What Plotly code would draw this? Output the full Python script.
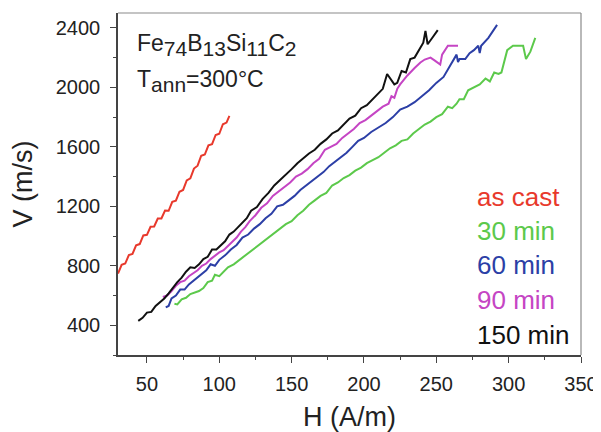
import plotly.graph_objects as go

# ---- data ----
H_cast = [30, 32.5, 35, 37.5, 40, 42.5, 45, 47.5, 50, 52.5, 55, 57.5, 60, 62.5, 65, 67.5,
          70, 72.5, 75, 77.5, 80, 82.5, 85, 87.5, 90, 92.5, 95, 97.5, 100, 102.5, 105, 107]
V_cast = [748, 806, 815, 872, 880, 938, 946, 1004, 1008, 1062, 1064, 1118, 1118, 1172, 1170, 1230,
          1238, 1298, 1310, 1374, 1388, 1454, 1473, 1540, 1548, 1610, 1618, 1680, 1688, 1752, 1763, 1808]

H_30 = [69, 71, 74, 77, 80, 83, 86, 89, 92, 95, 97, 100, 103, 106, 110, 114, 118, 122, 126, 130,
        134, 138, 142, 146, 150, 154, 158, 162, 166, 170, 174, 178, 182, 186, 190, 194, 198, 202, 206, 210,
        214, 218, 222, 226, 230, 234, 238, 242, 246, 250, 254, 258, 261, 264, 266, 269, 272, 276, 280, 284,
        287, 290, 293, 295, 297, 299, 303, 306, 310, 312, 315, 318.4]
V_30 = [545, 540, 575, 585, 610, 620, 630, 650, 690, 700, 740, 730, 760, 790, 810, 840, 870, 900, 930, 960,
        990, 1020, 1050, 1080, 1100, 1140, 1170, 1210, 1240, 1270, 1290, 1340, 1360, 1390, 1410, 1440, 1460, 1490, 1510, 1530,
        1560, 1590, 1610, 1640, 1650, 1690, 1720, 1750, 1770, 1800, 1820, 1870, 1860, 1890, 1920, 1920, 1980, 2000, 2020, 2060,
        2040, 2100, 2090, 2100, 2170, 2250, 2280, 2280, 2280, 2190, 2240, 2333]

H_60 = [63, 65, 67, 70, 73, 76, 79, 82, 85, 88, 91, 94, 97, 100, 104, 108, 112, 116, 120, 124,
        128, 132, 136, 140, 144, 148, 152, 156, 160, 164, 168, 172, 176, 180, 184, 188, 192, 196, 200, 205,
        210, 215, 220, 225, 230, 235, 240, 245, 250, 255, 259.6, 264, 265, 266, 270, 273, 276, 279, 280, 281,
        286, 292]
V_60 = [520, 530, 580, 600, 640, 640, 675, 700, 720, 750, 770, 810, 800, 840, 870, 910, 940, 990, 1010, 1050,
        1080, 1120, 1150, 1200, 1210, 1240, 1270, 1310, 1340, 1370, 1400, 1430, 1470, 1500, 1530, 1560, 1600, 1640, 1660, 1700,
        1730, 1760, 1800, 1850, 1870, 1900, 1940, 1980, 2030, 2070, 2147, 2220, 2170, 2190, 2190, 2230, 2250, 2280, 2230, 2280,
        2333, 2420]

H_90 = [61, 64, 67, 70, 73, 76, 79, 82, 85, 88, 91, 94, 97, 100, 103, 106, 109, 112, 115, 118,
        121, 125, 129, 133, 137, 141, 145, 149, 153, 157, 161, 165, 169, 173, 177, 181, 185, 189, 193, 197,
        201, 205, 209, 213, 217, 219, 221, 223, 225, 230, 235, 239, 242, 246, 249, 252.7, 254, 258, 265]
V_90 = [590, 600, 630, 665, 690, 700, 730, 750, 770, 800, 815, 845, 870, 890, 905, 935, 960, 990, 1030, 1060,
        1100, 1140, 1190, 1220, 1270, 1300, 1335, 1360, 1400, 1420, 1450, 1490, 1520, 1580, 1600, 1620, 1660, 1690, 1720, 1760,
        1780, 1810, 1840, 1870, 1890, 1940, 1930, 1990, 2020, 2080, 2130, 2167, 2187, 2200, 2180, 2153, 2220, 2280, 2280]

H_150 = [44, 47, 50, 53, 56, 59, 62, 65, 68, 71, 74, 77, 80, 83, 86, 89, 92, 95, 98, 101,
         104, 107, 110, 113, 116, 119, 122, 126, 130, 134, 138, 142, 146, 150, 154, 158, 162, 166, 170, 174,
         178, 182, 186, 190, 194, 198, 202, 206, 210, 213, 216, 219, 221, 223, 226, 229, 232, 235, 238, 241,
         242.5, 244, 247, 251]
V_150 = [430, 450, 485, 490, 530, 555, 580, 615, 655, 690, 720, 760, 790, 785, 810, 845, 860, 910, 910, 935,
         965, 1010, 1030, 1060, 1090, 1120, 1170, 1195, 1250, 1290, 1340, 1375, 1410, 1450, 1490, 1525, 1555, 1580, 1620, 1650,
         1690, 1710, 1750, 1790, 1810, 1860, 1880, 1920, 1960, 1990, 2090, 2050, 2020, 2030, 2110, 2100, 2190, 2200, 2250, 2300,
         2380, 2290, 2330, 2385]

series_names = ["as cast", "30 min", "60 min", "90 min", "150 min"]
series_H = [H_cast, H_30, H_60, H_90, H_150]
series_V = [V_cast, V_30, V_60, V_90, V_150]
colors = ["#e8392c", "#5cc94b", "#2c3fa6", "#c545c4", "#111111"]

x_ticks = [50, 100, 150, 200, 250, 300, 350]
y_ticks = [400, 800, 1200, 1600, 2000, 2400]

FONT = "Liberation Sans, Arial, sans-serif"

fig = go.Figure()
for name, hs, vs, c in zip(series_names, series_H, series_V, colors):
    assert len(hs) == len(vs), name
    fig.add_trace(go.Scatter(x=hs, y=vs, mode="lines", name=name,
                             line=dict(color=c, width=2), showlegend=False))

# legend as coloured text
leg_y = [0.462, 0.362, 0.262, 0.162, 0.058]
for name, c, yy in zip(series_names, colors, leg_y):
    fig.add_annotation(text=name, xref="paper", yref="paper", x=0.771, y=yy,
                       xanchor="left", yanchor="middle", showarrow=False,
                       font=dict(family=FONT, size=26, color=c))

sub = '<span style="font-size:21px">{}</span>'
fig.add_annotation(
    text="Fe<sub>" + sub.format("74") + "</sub>B<sub>" + sub.format("13") + "</sub>Si<sub>"
         + sub.format("11") + "</sub>C<sub>" + sub.format("2") + "</sub>",
    xref="paper", yref="paper", x=0.036, y=0.905, xanchor="left", yanchor="middle",
    showarrow=False, font=dict(family=FONT, size=23, color="#222"))
fig.add_annotation(
    text="T<sub>" + sub.format("ann") + "</sub>=300°C",
    xref="paper", yref="paper", x=0.036, y=0.80, xanchor="left", yanchor="middle",
    showarrow=False, font=dict(family=FONT, size=23, color="#222"))

# top & right frame
fig.add_shape(type="line", xref="paper", yref="paper", x0=0, x1=1, y0=1, y1=1,
              line=dict(color="#8a8a8a", width=1.2))
fig.add_shape(type="line", xref="paper", yref="paper", x0=1, x1=1, y0=0, y1=1,
              line=dict(color="#8a8a8a", width=1.2))

axis_common = dict(showgrid=False, zeroline=False, showline=True, linecolor="#444",
                   linewidth=1.5, ticks="outside", tickcolor="#444", tickwidth=1.2,
                   ticklen=6, tickfont=dict(family=FONT, size=20, color="#222"),
                   automargin=False)

fig.update_xaxes(range=[30, 350], tickvals=x_ticks,
                 minor=dict(dtick=25, tick0=25, ticks="outside", ticklen=3, tickcolor="#444"),
                 ticklabelstandoff=4,
                 title=dict(text="H (A/m)", font=dict(family=FONT, size=27, color="#222"), standoff=14),
                 **axis_common)
fig.update_yaxes(range=[200, 2500], tickvals=y_ticks,
                 minor=dict(dtick=200, tick0=200, ticks="outside", ticklen=3, tickcolor="#444"),
                 ticklabelstandoff=6,
                 title=dict(text="V (m/s)", font=dict(family=FONT, size=27, color="#222"), standoff=20),
                 **axis_common)

# the page body adds an 8 px margin, so the figure is sized to fit the 601x432 window
fig.update_layout(width=593, height=424, margin=dict(l=110, r=20, t=5, b=77),
                  plot_bgcolor="white", paper_bgcolor="white")

fig.write_html("out.html")
